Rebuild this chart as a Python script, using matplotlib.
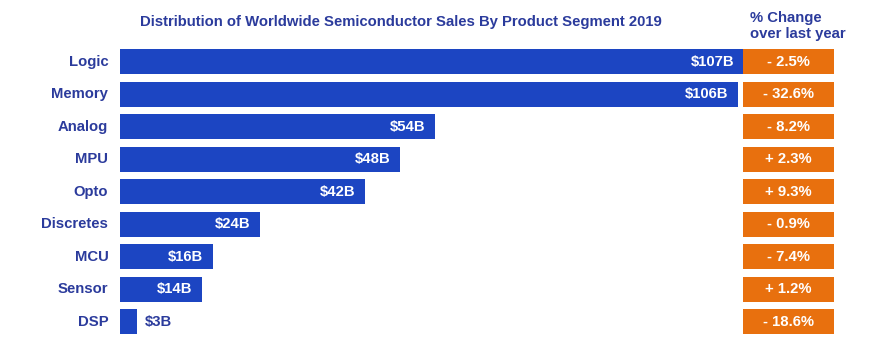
import numpy as np
import matplotlib.pyplot as plt

plt.rcParams['font.family'] = ['Liberation Sans', 'DejaVu Sans']

# data
segments = ['Logic', 'Memory', 'Analog', 'MPU', 'Opto', 'Discretes', 'MCU', 'Sensor', 'DSP']
sales = [107, 106, 54, 48, 42, 24, 16, 14, 3]  # $B
change = ['- 2.5%', '- 32.6%', '- 8.2%', '+ 2.3%', '+ 9.3%', '- 0.9%', '- 7.4%', '+ 1.2%', '- 18.6%']

blue = '#1c45c2'
navy = '#2b3b9c'
orange = '#e8700e'
fs = 10.7

W, H = 875, 355
fig = plt.figure(figsize=(W / 100, H / 100), dpi=100)
fig.patch.set_facecolor('white')

top, bot = 45.5, 338
y = np.arange(len(segments))

# main bars: 0..107 spans px 120..744
ax = fig.add_axes([120 / W, 1 - bot / H, (744 - 120) / W, (bot - top) / H])
ax.barh(y, sales, height=0.77, color=blue)
ax.set_xlim(0, 107)
ax.set_ylim(len(segments) - 0.5, -0.5)
ax.axis('off')

for i, (s, v) in enumerate(zip(segments, sales)):
    ax.text(-2.0, i, s, ha='right', va='center', fontsize=fs, fontweight='bold', color=navy)
    if v > 10:
        ax.text(v - 1.7, i, '$%dB' % v, ha='right', va='center', fontsize=fs,
                fontweight='bold', color='white')
    else:
        ax.text(v + 1.2, i, '$%dB' % v, ha='left', va='center', fontsize=fs,
                fontweight='bold', color=navy)

# % change column
ax2 = fig.add_axes([743 / W, 1 - bot / H, (834 - 743) / W, (bot - top) / H])
ax2.barh(y, [1] * len(y), height=0.77, color=orange)
ax2.set_xlim(0, 1)
ax2.set_ylim(len(segments) - 0.5, -0.5)
ax2.axis('off')
for i, c in enumerate(change):
    ax2.text(0.5, i, c, ha='center', va='center', fontsize=fs, fontweight='bold', color='white')

fig.text(401 / W, 1 - 22 / H, 'Distribution of Worldwide Semiconductor Sales By Product Segment 2019',
         ha='center', va='center', fontsize=fs, fontweight='bold', color=navy)
fig.text(750 / W, 1 - 26 / H, '% Change\nover last year', ha='left', va='center',
         fontsize=fs, fontweight='bold', color=navy, linespacing=1.1)

plt.savefig('out.png', dpi=100)
